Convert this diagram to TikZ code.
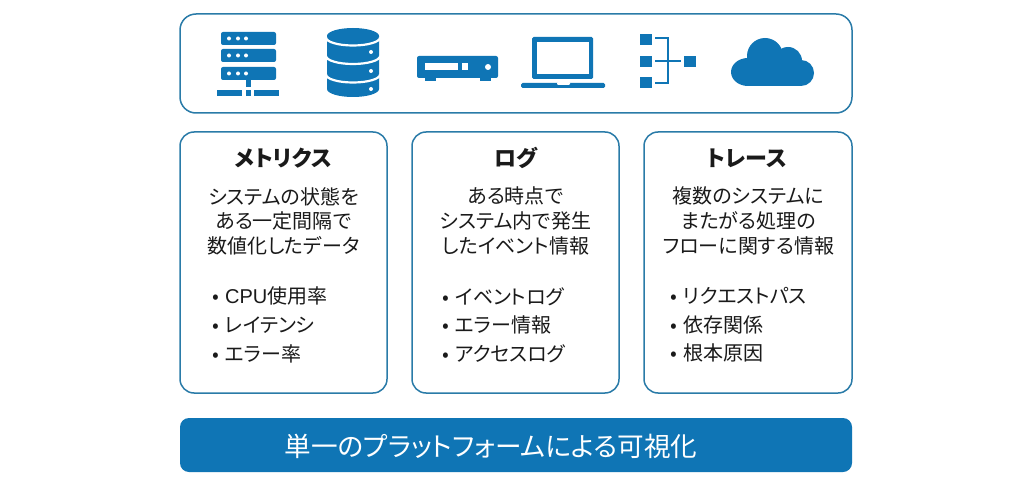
\documentclass[tikz,border=0pt]{standalone}
\usepackage{fontspec}
\setmainfont[RawFeature=+palt]{Noto Sans CJK JP}
\newfontfamily\latn{Liberation Sans}
\definecolor{bl}{HTML}{0F75B5}
\definecolor{ln}{HTML}{2A7BA8}
\definecolor{tx}{HTML}{1A1A1A}
\newcommand{\bul}{\makebox[12.5pt][l]{•}}
\tikzset{
  panel/.style={draw=ln,line width=1.5pt,rounded corners=#1,outer sep=0pt,inner sep=0pt,anchor=north west},
  ttl/.style={font=\fontsize{22}{24}\selectfont\bfseries,text=tx,anchor=center,inner sep=0pt},
  body/.style={font=\fontsize{20}{24.6}\selectfont,text=tx,align=center,anchor=center,inner sep=0pt},
  lst/.style={font=\fontsize{20}{28.7}\selectfont,text=tx,align=left,anchor=west,inner sep=0pt},
  ic/.style={fill=bl,draw=none},
  wh/.style={fill=white,draw=none},
}
\begin{document}
\begin{tikzpicture}[x=1pt,y=-1pt]
\useasboundingbox (0,0) rectangle (1030,489);
\fill[white] (0,0) rectangle (1030,489);
% panels
\node[panel=16pt,minimum width=672pt,minimum height=99pt] (top) at (180,14) {};
\node[panel=14pt,minimum width=207pt,minimum height=261pt] (c1) at (180,132) {};
\node[panel=14pt,minimum width=207pt,minimum height=261pt] (c2) at (412,132) {};
\node[panel=14pt,minimum width=208pt,minimum height=261pt] (c3) at (644,132) {};
\node[fill=bl,rounded corners=9pt,minimum width=672pt,minimum height=54pt,inner sep=0pt,outer sep=0pt,anchor=north west] (bar) at (180,418) {};
\node[text=white,font=\fontsize{26.6}{28}\selectfont,inner sep=0pt] (bart) at (491,446) {単一のプラットフォームによる可視化};
% texts col 1
\node[ttl] (t1) at (283.5,158) {メトリクス};
\node[body] (b1) at (283.5,221) {システムの状態を\\ある一定間隔で\\数値化したデータ};
\node[lst] (l1) at (212.5,325) {\bul{\latn CPU}使用率\\\bul レイテンシ\\\bul エラー率};
% col 2
\node[ttl] (t2) at (515.5,158) {ログ};
\node[body] (b2) at (515.5,221) {ある時点で\\システム内で発生\\したイベント情報};
\node[lst] (l2) at (442.5,325) {\bul イベントログ\\\bul エラー情報\\\bul アクセスログ};
% col 3
\node[ttl] (t3) at (747,158) {トレース};
\node[body] (b3) at (748.5,221) {複数のシステムに\\またがる処理の\\フローに関する情報};
\node[lst] (l3) at (670.5,325) {\bul リクエストパス\\\bul 依存関係\\\bul 根本原因};
% server icon
\foreach \y in {32,49,67}{
  \fill[ic,rounded corners=2pt] (221,\y) rectangle (276,\y+13);
  \foreach \x in {229,238,246}{\fill[white] (\x,\y+6.5) circle (2);}
}
\fill[ic] (246,80) rectangle (251,87);
\fill[ic] (217,90) rectangle (242,96);
\fill[ic] (245.5,90) rectangle (251,96);
\fill[ic] (254,90) rectangle (279,96);
% database icon
\fill[ic] (327,36) -- (327,89) arc[start angle=180,end angle=0,x radius=26,y radius=8] -- (379,36) arc[start angle=0,end angle=-180,x radius=26,y radius=8] -- cycle;
\foreach \y in {37.5,56,74.5}{
  \draw[white,line width=2.2pt] (326,\y) arc[start angle=180,end angle=0,x radius=27,y radius=8];
}
\foreach \y in {52,71,89}{\fill[white] (371,\y) circle (2);}
% device icon
\fill[ic,rounded corners=2pt] (417,56) rectangle (498,78);
\fill[ic] (425,77) rectangle (436,81);
\fill[ic] (480,77) rectangle (491,81);
\fill[wh] (425,63) rectangle (458,70);
\fill[wh] (461.5,63) rectangle (468,70);
\fill[white] (488,67) circle (3);
% laptop icon
\fill[ic,rounded corners=1.5pt] (532,37) rectangle (593,79);
\fill[wh] (537,42) rectangle (589,74);
\fill[ic,rounded corners=1.5pt] (521,83) rectangle (605,88);
\fill[wh,rounded corners=1pt] (557,82) rectangle (570,84.8);
% tree icon
\fill[ic] (640,34) rectangle (652,45);
\fill[ic] (640,56) rectangle (652,67);
\fill[ic] (640,77) rectangle (652,88);
\fill[ic] (684,56) rectangle (696,67);
\draw[bl,line width=2.4pt] (655,38) -- (668,38) -- (668,83) -- (655,83);
\draw[bl,line width=2.4pt] (655,61) -- (681,61);
% cloud icon
\fill[ic] (748,72) ellipse[x radius=17,y radius=14];
\fill[ic] (765,56) circle (18);
\fill[ic] (788,61) circle (14);
\fill[ic] (801,73) circle (13);
\fill[ic] (748,62) rectangle (801,86);
\end{tikzpicture}
\end{document}
